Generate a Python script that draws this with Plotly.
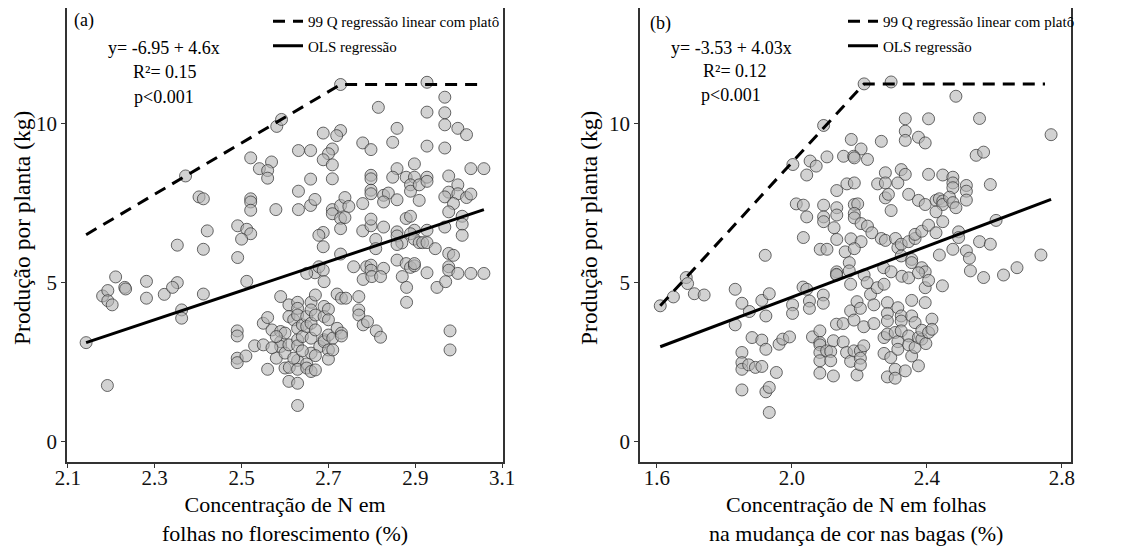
import plotly.graph_objects as go

# ---------------- Panel (a) data ----------------
xa = [2.728, 2.927, 2.968, 2.815, 2.927, 2.968, 2.968, 2.998, 3.018, 2.927, 2.968, 2.858, 2.848, 2.779, 2.798,
      2.728, 2.719, 2.688, 2.581, 2.592, 2.631, 2.659, 2.709, 2.70, 2.688, 2.709, 2.709, 2.659, 2.521, 2.541,
      2.569, 2.56, 2.56, 2.371, 2.402, 2.412, 2.521, 2.521, 2.521, 2.579, 2.631, 2.631, 2.659, 2.669, 2.709,
      2.709, 2.728, 2.738, 2.747, 2.728, 2.738, 2.728, 2.779, 2.798, 2.798, 2.798, 2.798, 2.827, 2.838, 2.827,
      2.858, 2.858, 2.848, 2.879, 2.898, 2.898, 2.889, 2.889, 2.909, 2.927, 2.927, 2.909, 2.977, 2.998, 2.977,
      2.968, 2.998, 3.018, 3.028, 3.028, 3.058, 2.988, 2.977, 3.008, 2.968, 3.008, 3.008, 2.927, 2.898, 2.858,
      2.858, 2.879, 2.889, 2.889, 2.869, 2.858, 2.898, 2.909, 2.917, 2.927, 2.946, 2.779, 2.798, 2.798, 2.827,
      2.809, 2.809, 2.688, 2.678, 2.688, 2.728, 2.758, 2.788, 2.798, 2.798, 2.827, 2.858, 2.879, 2.889, 2.898,
      2.898, 2.977, 2.988, 2.977, 2.977, 2.927, 2.998, 3.028, 3.058, 2.491, 2.512, 2.521, 2.50, 2.491, 2.421,
      2.412, 2.352, 2.669, 2.678, 2.65, 2.688, 2.21, 2.281, 2.352, 2.512,
      2.18, 2.192, 2.192, 2.202, 2.231, 2.233, 2.281, 2.322, 2.341, 2.362, 2.362, 2.412, 2.142, 2.191, 2.49,
      2.49, 2.49, 2.49, 2.51, 2.53, 2.55, 2.55, 2.56, 2.57, 2.56, 2.58, 2.59, 2.59, 2.59, 2.59,
      2.60, 2.60, 2.60, 2.609, 2.609, 2.609, 2.609, 2.61, 2.62, 2.629, 2.629, 2.629, 2.629, 2.629, 2.629,
      2.629, 2.629, 2.629, 2.629, 2.64, 2.64, 2.65, 2.65, 2.65, 2.65, 2.66, 2.66, 2.66, 2.66, 2.66,
      2.66, 2.67, 2.67, 2.67, 2.67, 2.68, 2.69, 2.69, 2.69, 2.69, 2.70, 2.70, 2.70, 2.70, 2.70,
      2.71, 2.71, 2.69, 2.72, 2.72, 2.73, 2.73, 2.73, 2.74, 2.77, 2.77, 2.77, 2.78, 2.79, 2.78,
      2.80, 2.81, 2.82, 2.82, 2.87, 2.88, 2.88, 2.95, 2.97, 2.98, 2.98,
      2.57, 2.62, 2.64, 2.67, 2.58]
ya = [11.24, 11.31, 10.84, 10.52, 10.37, 10.35, 9.97, 9.86, 9.66, 9.30, 9.24, 9.86, 9.42, 9.40, 9.19,
      9.79, 9.63, 9.71, 9.92, 10.14, 9.16, 9.16, 9.21, 9.06, 8.87, 8.71, 8.27, 8.26, 8.93, 8.59,
      8.80, 8.53, 8.29, 8.36, 7.70, 7.64, 7.64, 7.54, 7.28, 7.30, 7.30, 7.88, 7.43, 7.62, 7.30,
      7.17, 7.43, 7.68, 7.40, 7.02, 7.05, 6.70, 7.49, 8.38, 8.27, 7.91, 7.80, 7.75, 7.82, 7.54,
      7.61, 8.59, 8.32, 8.32, 8.74, 8.32, 8.08, 7.88, 8.08, 8.32, 8.19, 7.59, 8.36, 8.08, 7.85,
      7.70, 7.80, 7.68, 7.79, 8.59, 8.59, 7.49, 7.23, 7.09, 6.75, 6.84, 6.49, 6.65, 6.65, 6.60,
      6.47, 7.02, 7.09, 6.54, 6.25, 6.20, 6.37, 6.26, 6.26, 6.26, 6.07, 6.63, 6.79, 7.00, 6.75,
      6.36, 6.07, 6.58, 6.49, 6.13, 5.90, 5.50, 5.50, 5.55, 5.39, 5.45, 5.71, 5.60, 5.48, 5.53,
      5.60, 5.92, 5.86, 5.50, 5.39, 5.31, 5.29, 5.29, 5.29, 6.79, 6.68, 6.54, 6.37, 5.79, 6.63,
      6.05, 6.18, 5.31, 5.50, 5.29, 5.39, 5.18, 5.04, 5.00, 5.04,
      4.58, 4.75, 4.43, 4.30, 4.85, 4.80, 4.51, 4.63, 4.85, 4.14, 3.88, 4.64, 3.11, 1.76, 3.48,
      3.32, 2.62, 2.48, 2.69, 3.01, 3.04, 3.72, 3.90, 3.51, 2.27, 2.62, 4.56, 3.46, 3.14, 2.99,
      3.41, 2.78, 2.31, 4.30, 3.93, 3.04, 1.89, 2.33, 3.83, 4.38, 4.19, 3.98, 3.56, 3.20, 3.01,
      2.55, 2.27, 1.83, 1.13, 3.30, 3.67, 3.93, 3.62, 2.44, 2.31, 4.38, 4.14, 3.72, 3.25, 2.78,
      2.20, 4.61, 3.98, 3.51, 2.25, 2.99, 4.25, 3.93, 3.20, 3.14, 4.16, 3.83, 3.35, 2.88, 2.59,
      3.25, 2.88, 5.03, 4.64, 3.56, 3.41, 3.32, 4.51, 4.51, 4.56, 4.14, 3.98, 3.67, 3.77, 5.10,
      5.19, 3.48, 5.19, 3.28, 5.19, 4.85, 4.38, 4.85, 5.03, 3.48, 2.88,
      2.95, 2.62, 2.85, 2.70, 3.30]

# fitted lines, panel (a)
qa_x = [2.142, 2.728, 3.058]
qa_y = [6.51, 11.24, 11.24]
ols_a_x = [2.142, 3.058]
ols_a_y = [3.11, 7.30]

# ---------------- Panel (b) data ----------------
xb = [2.214, 2.294, 2.486, 2.336, 2.405, 2.556, 2.336, 2.336, 2.375, 2.395, 2.265, 2.176, 2.094, 2.205, 2.768,
      2.546, 2.568, 2.003, 2.054, 2.072, 2.044, 2.104, 2.153, 2.183, 2.185, 2.224, 2.324, 2.336, 2.277, 2.254,
      2.277, 2.314, 2.405, 2.447, 2.477, 2.477, 2.477, 2.517, 2.517, 2.517, 2.588, 2.163, 2.185, 2.133, 2.277,
      2.286, 2.346, 2.375, 2.395, 2.427, 2.437, 2.447, 2.447, 2.467, 2.477, 2.486, 2.427, 2.447, 2.294, 2.013,
      2.034, 2.094, 2.133, 2.185, 2.195, 2.044, 2.094, 2.094, 2.133, 2.185, 2.185, 2.125, 2.205, 2.224, 2.237,
      2.034, 2.133, 2.175, 2.205, 2.265, 2.277, 2.307, 2.314, 2.324, 2.346, 2.365, 2.365, 2.385, 2.405, 2.427,
      2.494, 2.494, 2.556, 2.588, 2.605, 2.084, 2.104, 2.158, 2.185, 1.921, 2.170, 2.324, 2.355, 2.355, 2.385,
      2.395, 2.437, 2.477, 2.517, 2.526, 2.529, 2.568, 2.627, 2.667, 2.738, 2.272, 2.294, 2.326, 2.346, 2.133,
      2.133, 2.170, 2.214, 1.687,
      1.61, 1.649, 1.691, 1.711, 1.74, 1.832, 1.832, 1.852, 1.874, 1.852, 1.852, 1.852, 1.852, 1.872, 1.892,
      1.882, 1.911, 1.911, 1.911, 1.923, 1.923, 1.923, 1.933, 1.933, 1.933, 1.954, 1.962, 1.973, 1.993, 2.002,
      2.002, 2.033, 2.044, 2.052, 2.052, 2.061, 2.083, 2.083, 2.083, 2.083, 2.083, 2.083, 2.093, 2.093, 2.103,
      2.115, 2.115, 2.123, 2.123, 2.132, 2.132, 2.152, 2.152, 2.162, 2.174, 2.174, 2.174, 2.184, 2.184, 2.193,
      2.193, 2.203, 2.203, 2.203, 2.203, 2.213, 2.213, 2.223, 2.233, 2.243, 2.243, 2.253, 2.273, 2.273, 2.273,
      2.283, 2.283, 2.283, 2.283, 2.283, 2.293, 2.306, 2.306, 2.306, 2.314, 2.314, 2.314, 2.324, 2.324, 2.324,
      2.336, 2.346, 2.346, 2.355, 2.355, 2.355, 2.365, 2.365, 2.375, 2.375, 2.385, 2.385, 2.395, 2.395, 2.397,
      2.405, 2.405, 2.415, 2.415, 2.446, 2.375]
yb = [11.26, 11.32, 10.87, 10.16, 10.16, 10.17, 9.77, 9.48, 9.58, 9.40, 9.45, 9.51, 9.95, 9.21, 9.66,
      9.01, 9.11, 8.72, 8.83, 8.67, 8.39, 8.96, 8.98, 8.98, 8.93, 8.88, 8.56, 8.41, 8.46, 8.11,
      8.14, 8.14, 8.41, 8.39, 8.32, 8.14, 7.99, 8.06, 7.88, 7.60, 8.09, 8.11, 8.14, 7.90, 7.67,
      7.78, 7.78, 7.59, 7.46, 7.59, 7.64, 7.57, 7.46, 7.69, 7.52, 7.36, 7.23, 6.92, 7.27, 7.48,
      7.44, 7.44, 7.36, 7.46, 7.48, 7.07, 7.07, 6.92, 7.13, 7.18, 7.04, 6.73, 6.86, 6.78, 6.57,
      6.42, 6.36, 6.38, 6.29, 6.39, 6.33, 6.39, 6.10, 6.21, 6.29, 6.39, 6.52, 6.62, 6.81, 6.57,
      6.60, 6.42, 6.29, 6.21, 6.96, 6.05, 6.05, 5.97, 6.07, 5.86, 5.63, 5.84, 5.73, 5.63, 5.47,
      5.34, 5.87, 6.05, 6.00, 5.77, 5.37, 5.16, 5.24, 5.47, 5.87, 5.47, 5.34, 5.20, 5.15, 5.34,
      5.24, 5.37, 5.24, 5.16,
      4.27, 4.55, 4.97, 4.65, 4.61, 4.79, 3.67, 4.35, 4.09, 2.80, 2.48, 2.27, 1.62, 2.41, 2.33,
      3.27, 4.44, 3.19, 2.36, 3.95, 2.90, 1.56, 4.65, 1.70, 0.91, 2.17, 3.06, 3.22, 3.29, 4.30,
      4.03, 4.86, 4.79, 4.42, 4.19, 3.29, 3.48, 3.11, 3.04, 2.80, 2.54, 2.15, 4.61, 4.35, 2.85,
      2.83, 2.54, 3.17, 2.06, 3.69, 5.26, 3.71, 3.13, 2.80, 4.11, 4.95, 2.52, 3.82, 2.85, 4.40,
      2.09, 4.19, 2.85, 2.62, 2.41, 3.61, 3.01, 5.00, 4.63, 4.30, 3.71, 4.84, 4.95, 3.27, 2.77,
      4.37, 4.03, 3.79, 3.38, 2.03, 2.64, 2.27, 1.99, 3.43, 4.21, 3.14, 2.90, 3.95, 3.79, 3.48,
      2.22, 3.32, 3.04, 4.44, 3.95, 2.69, 3.74, 2.96, 2.38, 3.27, 3.22, 3.50, 4.84, 4.37, 3.08,
      5.07, 3.43, 3.85, 3.53, 4.90, 5.31]

qb_x = [1.61, 2.214, 2.75]
qb_y = [4.27, 11.26, 11.26]
ols_b_x = [1.61, 2.768]
ols_b_y = [2.98, 7.62]

# text
legend_q = "99 Q regressão linear com platô"
legend_ols = "OLS regressão"
ytitle = "Produção por planta (kg)"
xtitle_a = "Concentração de N em<br>folhas no florescimento (%)"
xtitle_b = "Concentração de N em folhas<br>na mudança de cor nas bagas (%)"
xticks_a = [2.1, 2.3, 2.5, 2.7, 2.9, 3.1]
xticks_b = [1.6, 2.0, 2.4, 2.8]
yticks = [0, 5, 10]

FONT = "Liberation Serif"
W, H = 1128, 548
OFF = 8  # page body margin: convert screen px to figure px


def fx(sx):
    return (sx - OFF) / W


def fy(sy):
    return 1 - (sy - OFF) / H


marker = dict(size=12, color="rgba(180,180,180,0.6)",
              line=dict(color="rgba(55,55,55,0.75)", width=1))

fig = go.Figure()

# panel a
fig.add_trace(go.Scatter(x=xa, y=ya, mode="markers", marker=marker, showlegend=False,
                         xaxis="x", yaxis="y"))
fig.add_trace(go.Scatter(x=qa_x, y=qa_y, mode="lines", name=legend_q, legend="legend",
                         legendgroup="q", line=dict(color="black", width=3, dash="12px,8px"),
                         xaxis="x", yaxis="y"))
fig.add_trace(go.Scatter(x=ols_a_x, y=ols_a_y, mode="lines", name=legend_ols, legend="legend",
                         legendgroup="o", line=dict(color="black", width=3),
                         xaxis="x", yaxis="y"))
# panel b
fig.add_trace(go.Scatter(x=xb, y=yb, mode="markers", marker=marker, showlegend=False,
                         xaxis="x2", yaxis="y2"))
fig.add_trace(go.Scatter(x=qb_x, y=qb_y, mode="lines", name=legend_q, legend="legend2",
                         legendgroup="q", line=dict(color="black", width=3, dash="12px,8px"),
                         xaxis="x2", yaxis="y2"))
fig.add_trace(go.Scatter(x=ols_b_x, y=ols_b_y, mode="lines", name=legend_ols, legend="legend2",
                         legendgroup="o", line=dict(color="black", width=3),
                         xaxis="x2", yaxis="y2"))

ydom = [fy(462), min(1.0, fy(8))]
ax_common = dict(showgrid=False, zeroline=False, showline=True, mirror=True, automargin=False,
                 linecolor="#333333", linewidth=1.5, ticks="outside", ticklen=4,
                 tickwidth=1.2, tickcolor="#333333",
                 tickfont=dict(family=FONT, size=21, color="#111111"))

legend_common = dict(font=dict(family=FONT, size=15, color="black"), bgcolor="rgba(0,0,0,0)",
                     borderwidth=0, tracegroupgap=2, xanchor="left", yanchor="top",
                     traceorder="grouped")

fig.update_layout(
    width=W, height=H, margin=dict(l=0, r=0, t=0, b=0, autoexpand=False),
    paper_bgcolor="white", plot_bgcolor="white",
    font=dict(family=FONT),
    xaxis=dict(domain=[fx(67), fx(503)], range=[2.098, 3.102], tickvals=xticks_a,
               ticktext=[f"{v:.1f}" for v in xticks_a], anchor="y", ticklabelstandoff=-8,
               **ax_common),
    yaxis=dict(domain=ydom, range=[-0.65, 13.65], tickvals=yticks, anchor="x", **ax_common),
    xaxis2=dict(domain=[fx(640), fx(1071)], range=[1.55, 2.827], tickvals=xticks_b,
                ticktext=[f"{v:.1f}" for v in xticks_b], anchor="y2", ticklabelstandoff=-8,
                **ax_common),
    yaxis2=dict(domain=ydom, range=[-0.65, 13.65], tickvals=yticks, anchor="x2", **ax_common),
    legend=dict(x=fx(268), y=1 + 3 / H, **legend_common),
    legend2=dict(x=fx(843), y=1 + 3 / H, **legend_common),
)

ann = []


def txt(x, y, s, size, xanchor="center", angle=0):
    ann.append(dict(x=fx(x), y=fy(y), xref="paper", yref="paper", text=s, showarrow=False,
                    xanchor=xanchor, yanchor="middle", textangle=angle,
                    font=dict(family=FONT, size=size, color="black")))


txt(72, 21, "(a)", 18, "left")
txt(164, 48, "y= -6.95 + 4.6x", 18)
txt(165, 72, "R²= 0.15", 18)
txt(164, 97, "p<0.001", 18)
txt(648, 24, "(b)", 18, "left")
txt(731, 48, "y= -3.53 + 4.03x", 18)
txt(735, 71, "R²= 0.12", 18)
txt(731, 95, "p<0.001", 18)
txt(285, 519, xtitle_a, 22)
txt(856, 519, xtitle_b, 22)
txt(22, 228, ytitle, 23.5, angle=-90)
txt(589, 228, ytitle, 23.5, angle=-90)
fig.update_layout(annotations=ann)

fig.write_html("out.html")
